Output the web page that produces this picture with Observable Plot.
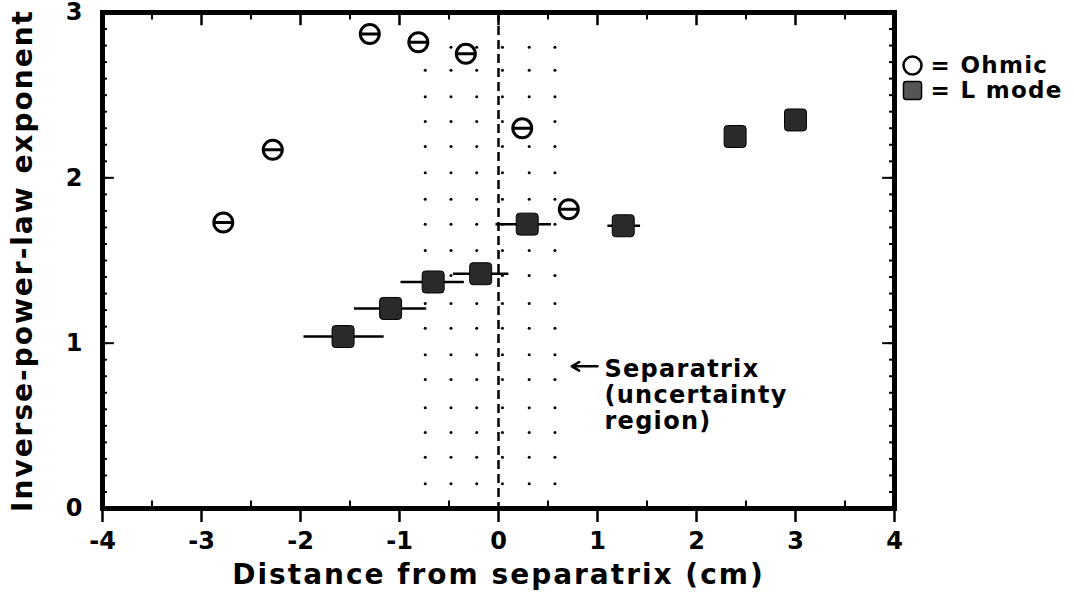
<!DOCTYPE html>
<html><head><meta charset="utf-8">
<script src="https://cdn.jsdelivr.net/npm/d3@7"></script>
<script src="https://cdn.jsdelivr.net/npm/@observablehq/plot@0.6"></script>
<style>
body{margin:0;background:#fff;}
.wide text{letter-spacing:2px;}
.wide1 text{letter-spacing:1.3px;}
</style>
</head><body><div id="chart"></div>
<script>
// Ohmic points (circle with bar)
const ohmicX = [-2.78, -2.28, -1.30, -0.81, -0.33, 0.24, 0.71, -1.57];
const ohmicY = [1.73, 2.17, 2.87, 2.82, 2.75, 2.30, 1.81, 1.04];
// L mode points (filled squares) with horizontal error bars
const lmodeX   = [-1.57, -1.09, -0.66, -0.18, 0.29, 1.26, 2.39, 3.00];
const lmodeY   = [1.04, 1.21, 1.37, 1.42, 1.72, 1.71, 2.25, 2.35];
const lmodeXLo = [-1.97, -1.46, -0.99, -0.46, -0.03, 1.10, 2.39, 3.00];
const lmodeXHi = [-1.16, -0.73, -0.35, 0.10, 0.53, 1.43, 2.39, 3.00];
// axis ticks
const xTicks = [-4, -3, -2, -1, 0, 1, 2, 3, 4];
const yTicks = [0, 1, 2, 3];
const xHalfTicks = [-3.5, -2.5, -1.5, -0.5, 0.5, 1.5, 2.5, 3.5];
// separatrix uncertainty region dot grid
const gridX = [-0.74, -0.48, -0.22, 0.04, 0.31, 0.57];
const gridY = [2.79, 2.65, 2.49, 2.34, 2.19, 2.03, 1.87, 1.72, 1.56, 1.41, 1.24, 1.09, 0.93, 0.78, 0.61, 0.46, 0.31, 0.15];
// labels
const xLabel = "Distance from separatrix (cm)";
const yLabel = "Inverse-power-law exponent";
const legendLabels = ["= Ohmic", "= L mode"];
const annotText = ["Separatrix\n(uncertainty\nregion)"];
const annotArrow = [{x1: 1.00, x2: 0.74, y: 0.86}];
const annotPos = [{x: 1.07, y: 0.69}];

const ohmic = ohmicX.map((x, i) => ({x, y: ohmicY[i]}));
const lmode = lmodeX.map((x, i) => ({x, y: lmodeY[i], lo: lmodeXLo[i], hi: lmodeXHi[i]}));
const grid = gridX.flatMap(x => gridY.map(y => ({x, y})));
const yMinor = d3.range(0, 3.001, 0.1);

const thetaSymbol = {
  draw(ctx, size) {
    const r = Math.sqrt(size / Math.PI);
    ctx.moveTo(r, 0);
    ctx.arc(0, 0, r, 0, 2 * Math.PI);
    ctx.closePath();
    ctx.moveTo(-r, 0);
    ctx.lineTo(r, 0);
  }
};
const roundSquare = {
  draw(ctx, size) {
    const s = Math.sqrt(size) / 2, c = s * 0.3;
    ctx.moveTo(-s + c, -s);
    ctx.lineTo(s - c, -s);
    ctx.quadraticCurveTo(s, -s, s, -s + c);
    ctx.lineTo(s, s - c);
    ctx.quadraticCurveTo(s, s, s - c, s);
    ctx.lineTo(-s + c, s);
    ctx.quadraticCurveTo(-s, s, -s, s - c);
    ctx.lineTo(-s, -s + c);
    ctx.quadraticCurveTo(-s, -s, -s + c, -s);
    ctx.closePath();
  }
};

const fmt = d => String(d);

const chart = Plot.plot({
  width: 1074,
  height: 596,
  marginLeft: 102,
  marginRight: 180,
  marginTop: 12,
  marginBottom: 88,
  x: {domain: [-4, 4]},
  y: {domain: [0, 3]},
  style: {fontFamily: "'DejaVu Sans', sans-serif", fontWeight: "bold", fontSize: "24px", background: "white", color: "black", overflow: "visible"},
  marks: [
    // uncertainty region
    Plot.dot(grid, {x: "x", y: "y", r: 1.5, fill: "black"}),
    Plot.ruleX([0], {stroke: "black", strokeWidth: 2.5, strokeDasharray: "9,5"}),
    // error bars
    Plot.link(lmode.filter(d => d.hi > d.lo), {x1: "lo", x2: "hi", y1: "y", y2: "y", stroke: "black", strokeWidth: 2.5}),
    // Ohmic
    Plot.dot(ohmic, {x: "x", y: "y", symbol: thetaSymbol, r: 9.5, stroke: "black", strokeWidth: 3, fill: "white"}),
    // L mode
    Plot.dot(lmode, {x: "x", y: "y", symbol: roundSquare, r: 12.4, fill: "#2a2a2a", stroke: "black", strokeWidth: 1}),
    // axes
    Plot.axisX({ticks: xTicks, tickSize: 14, tickPadding: 9, tickFormat: fmt, label: null, strokeWidth: 2.5}),
    Plot.axisY({ticks: yTicks, tickSize: 0, tickPadding: 20, tickFormat: fmt, label: null}),
    // inward ticks
    Plot.ruleY(yTicks, {x1: -4, x2: -3.88, stroke: "black", strokeWidth: 2}),
    Plot.ruleY(yTicks, {x1: 3.88, x2: 4, stroke: "black", strokeWidth: 2}),
    Plot.ruleY(yMinor, {x1: -4, x2: -3.95, stroke: "black", strokeWidth: 2}),
    Plot.ruleY(yMinor, {x1: 3.95, x2: 4, stroke: "black", strokeWidth: 2}),
    Plot.ruleX(xTicks, {y1: 3, y2: 2.92, stroke: "black", strokeWidth: 2.5}),
    Plot.ruleX(xHalfTicks, {y1: 3, y2: 2.955, stroke: "black", strokeWidth: 2}),
    Plot.ruleX(xHalfTicks, {y1: 0, y2: 0.045, stroke: "black", strokeWidth: 2}),
    Plot.frame({stroke: "black", strokeWidth: 5}),
    // axis titles
    Plot.text([xLabel], {frameAnchor: "bottom", dy: 67, fontSize: 28, lineAnchor: "middle", textAnchor: "middle", fill: "black", className: "wide"}),
    Plot.text([yLabel], {frameAnchor: "left", dx: -79, rotate: -90, fontSize: 28, lineAnchor: "middle", textAnchor: "middle", fill: "black", className: "wide"}),
    // legend
    Plot.dot([0], {frameAnchor: "top-right", dx: 18, dy: 53, r: 9, symbol: "circle", stroke: "black", strokeWidth: 2.5, fill: "white"}),
    Plot.dot([0], {frameAnchor: "top-right", dx: 18, dy: 78, r: 10.2, symbol: roundSquare, stroke: "black", strokeWidth: 1.5, fill: "#555"}),
    Plot.text([legendLabels[0]], {frameAnchor: "top-right", dx: 36, dy: 53, textAnchor: "start", lineAnchor: "middle", fontSize: 23, fill: "black", className: "wide1"}),
    Plot.text([legendLabels[1]], {frameAnchor: "top-right", dx: 36, dy: 78, textAnchor: "start", lineAnchor: "middle", fontSize: 23, fill: "black", className: "wide1"}),
    // separatrix annotation
    Plot.arrow(annotArrow, {x1: "x1", x2: "x2", y1: "y", y2: "y", stroke: "black", strokeWidth: 2.5, headLength: 9}),
    Plot.text(annotPos, {x: "x", y: "y", text: () => annotText[0], textAnchor: "start", lineAnchor: "middle", lineHeight: 1.08, fontSize: 24, fill: "black", className: "wide1"})
  ]
});
document.getElementById("chart").appendChild(chart);
</script>
</body></html>
